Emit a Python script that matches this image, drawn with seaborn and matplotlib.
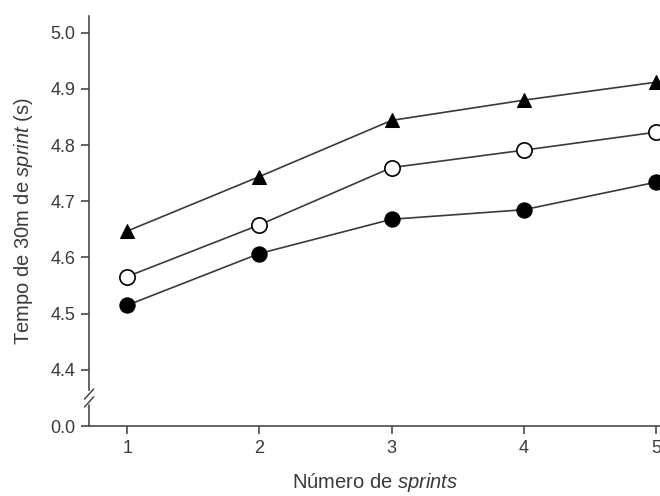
import matplotlib
matplotlib.use("Agg")
import matplotlib.pyplot as plt
import seaborn as sns
import pandas as pd

# data
sprints = [1, 2, 3, 4, 5]
triangulo = [4.647, 4.744, 4.844, 4.880, 4.912]
circulo_aberto = [4.566, 4.658, 4.760, 4.791, 4.823]
circulo_cheio = [4.515, 4.607, 4.668, 4.685, 4.734]

y_ticks = [4.3, 4.4, 4.5, 4.6, 4.7, 4.8, 4.9, 5.0]
y_tick_labels = ["0.0", "4.4", "4.5", "4.6", "4.7", "4.8", "4.9", "5.0"]

sns.set_style("ticks")
plt.rcParams["font.family"] = ["Liberation Sans", "DejaVu Sans"]
plt.rcParams["mathtext.fontset"] = "custom"
plt.rcParams["mathtext.rm"] = "Liberation Sans"
plt.rcParams["mathtext.it"] = "Liberation Sans:italic"

line_col = "#3a3a3a"
axis_col = "#4a4a4a"
text_col = "#3a3a3a"

fig = plt.figure(figsize=(6.6, 4.96), dpi=100)
ax = fig.add_axes([0.135, 0.141, 0.865, 0.827])

#series, drawn from top to bottom
sns.lineplot(x=sprints, y=triangulo, ax=ax, color=line_col, lw=1.2,
             marker="^", markersize=10, markerfacecolor="black",
             markeredgecolor="black")
sns.lineplot(x=sprints, y=circulo_aberto, ax=ax, color=line_col, lw=1.2,
             marker="o", markersize=11, markerfacecolor="white",
             markeredgecolor="black", markeredgewidth=1.2)
sns.lineplot(x=sprints, y=circulo_cheio, ax=ax, color=line_col, lw=1.2,
             marker="o", markersize=11, markerfacecolor="black",
             markeredgecolor="black")

ax.set_xlim(0.712, 5.03)
ax.set_ylim(4.3, 5.03)
ax.set_xticks(sprints)
ax.set_yticks(y_ticks)
ax.set_yticklabels(y_tick_labels)
ax.tick_params(axis="both", direction="out", length=6, width=1.2,
               color=axis_col, labelcolor=text_col, labelsize=13, pad=4)

ax.set_xlabel(r"Número de $\mathit{sprints}$", fontsize=14.5, color=text_col,
              labelpad=10)
ax.set_ylabel(r"Tempo de 30m de $\mathit{sprint}$ (s)", fontsize=14.5,
              color=text_col, labelpad=11)

# axis break on the y axis
sns.despine(ax=ax)
ax.spines["bottom"].set_color(axis_col)
ax.spines["bottom"].set_linewidth(1.2)
ax.spines["left"].set_color(axis_col)
ax.spines["left"].set_linewidth(1.2)
ax.spines["left"].set_bounds(4.364, 5.03)
tr = ax.get_yaxis_transform()
ax.plot([0, 0], [4.3, 4.338], transform=tr, color=axis_col, lw=1.2,
        clip_on=False)
for yb in [4.343, 4.357]:
    ax.plot([-0.008, 0.008], [yb - 0.009, yb + 0.009], transform=tr,
            color=axis_col, lw=1.1, clip_on=False)

plt.savefig("out.png", dpi=100)
plt.close()
